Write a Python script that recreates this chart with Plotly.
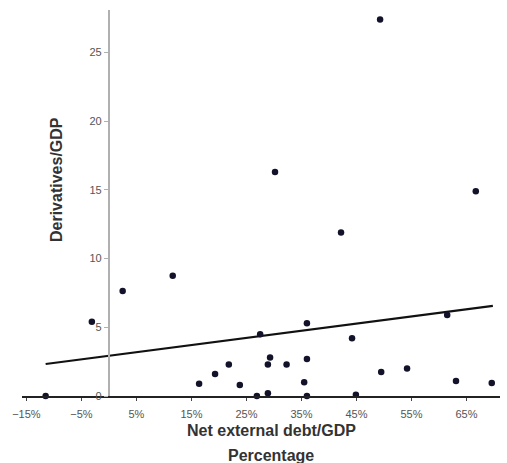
import plotly.graph_objects as go

# Net external debt/GDP (%) and Derivatives/GDP
debt_pct = [-11.5, -3.1, 2.5, 11.6, 30.2, 42.2, 66.7, 49.3, 61.5, 36.0,
            27.5, 44.2, 29.3, 28.9, 21.8, 32.3, 36.0, 19.3, 16.4, 23.8,
            35.5, 49.5, 54.2, 63.1, 69.6, 26.9, 28.9, 36.0, 44.9]
derivs = [0.0, 5.4, 7.65, 8.75, 16.3, 11.9, 14.9, 27.4, 5.9, 5.3,
          4.5, 4.2, 2.8, 2.3, 2.3, 2.3, 2.7, 1.6, 0.9, 0.8,
          1.0, 1.75, 2.0, 1.1, 0.95, 0.0, 0.2, 0.0, 0.1]

# Fitted trend line endpoints
trend_x = [-11.5, 69.8]
trend_y = [2.33, 6.56]

x_range = [-15.8, 71.1]
y_range = [0, 28.1]

fig = go.Figure()
fig.add_trace(go.Scatter(x=trend_x, y=trend_y, mode="lines",
                         line=dict(color="#111111", width=2.2),
                         showlegend=False, hoverinfo="skip"))
fig.add_trace(go.Scatter(x=debt_pct, y=derivs, mode="markers",
                         marker=dict(color="#12122a", size=6.5),
                         cliponaxis=False, showlegend=False))

ypos = (0 - x_range[0]) / (x_range[1] - x_range[0])

fig.update_layout(
    width=507, height=463,
    margin=dict(l=22, r=7, t=10, b=67),
    paper_bgcolor="white", plot_bgcolor="white",
    font=dict(family="Liberation Sans, Arial, sans-serif", color="#555555", size=11),
    xaxis=dict(range=x_range, tick0=-15, dtick=10, ticksuffix="%",
               showgrid=False, zeroline=False, showline=True,
               linecolor="#222222", linewidth=1.5, ticks="outside",
               ticklen=3, tickcolor="#444444", ticklabelstandoff=4,
               tickfont=dict(size=11, color="#555555")),
    yaxis=dict(range=y_range, tick0=0, dtick=5, showgrid=False, zeroline=False,
               showline=True, linecolor="#b0b0b0", linewidth=2,
               ticks="outside", ticklen=4, tickcolor="#b0b0b0",
               anchor="free", position=ypos,
               tickfont=dict(size=11, color="#555555")),
    annotations=[
        dict(text="<b>Net external debt/GDP</b>", x=271, y=463 - 430,
             xref="paper", yref="paper", showarrow=False,
             font=dict(size=16, color="#333333", family="Liberation Sans, Arial, sans-serif")),
        dict(text="<b>Percentage</b>", x=271, y=463 - 455,
             xref="paper", yref="paper", showarrow=False,
             font=dict(size=16, color="#333333", family="Liberation Sans, Arial, sans-serif")),
        dict(text="<b>Derivatives/GDP</b>", x=56, y=463 - 180, textangle=-90,
             xref="paper", yref="paper", showarrow=False,
             font=dict(size=16, color="#333333", family="Liberation Sans, Arial, sans-serif")),
    ],
)

# convert pixel annotation positions to paper fractions
pw = 507 - 22 - 7
ph = 463 - 10 - 67
for a in fig.layout.annotations:
    a.x = (a.x - 22) / pw
    a.y = (a.y - 67) / ph
    a.xanchor = "center"
    a.yanchor = "middle"

fig.write_html("out.html")
